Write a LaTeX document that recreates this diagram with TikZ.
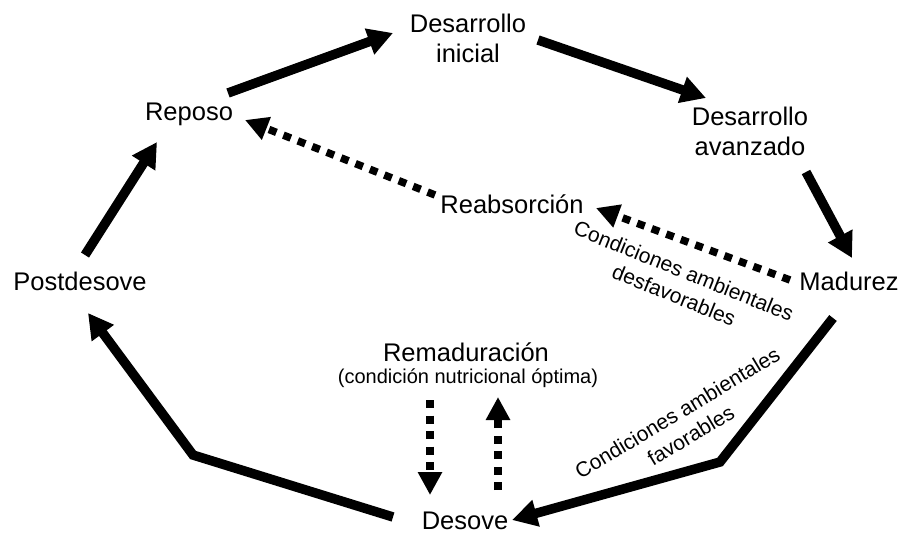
\documentclass[tikz,border=0pt]{standalone}
\usepackage{fontspec}
\setmainfont{Liberation Sans}
\usepackage{tikz}
\usetikzlibrary{positioning}
\usetikzlibrary{arrows.meta, calc}
\tikzstyle{stage} = [align=center, inner sep=0pt, font=\fontsize{25.5}{30}\selectfont]
\tikzstyle{note} = [inner sep=0pt, font=\fontsize{20}{24}\selectfont]
\tikzstyle{cond} = [align=center, inner sep=0pt, font=\fontsize{21}{26}\selectfont]
\tikzstyle{arrow} = [line width=9.5pt, -{Triangle[length=25pt,width=26pt]}]
\tikzstyle{dotarrow} = [line width=7.5pt, dash pattern=on 8pt off 7.5pt, -{Triangle[length=23pt,width=23pt]}]

\begin{document}
\begin{tikzpicture}[x=1pt,y=-1pt]
      \useasboundingbox (0,0) rectangle (901,535);
      %%%%%%%%%%%%%%%%%%%%%%%%%%%%%%%%%%%%%%%
      \draw (468,38) node (ini) [stage] {Desarrollo\\inicial};
      \draw (189,114) node (rep) [stage] {Reposo};
      \draw (750,131) node (ava) [stage] {Desarrollo\\avanzado};
      \draw (512,204) node (rea) [stage] {Reabsorción};
      \draw (849,281) node (mad) [stage] {Madurez};
      \draw (80,281) node (post) [stage] {Postdesove};
      \draw (466,352) node (rem) [stage] {Remaduración};
      \draw (468,383) node (remnote) [note, anchor=base] {(condición nutricional óptima)};
      \draw (465,521) node (des) [stage] {Desove};
      \node (unfav) [cond, rotate=-22] at (679,283) {Condiciones ambientales\\desfavorables};
      \node (fav) [cond, rotate=31] at (684,424) {Condiciones ambientales\\favorables};
      \coordinate (bendR) at (720,462);
      \coordinate (bendL) at (193,455);
      %\draw (rep) -- (ini);
      \draw[arrow] ([shift={(39,-21)}]rep.center) -- ([shift={(-75,-5)}]ini.center);
      \draw[arrow] ([shift={(70,2)}]ini.center) -- ([shift={(-44,-33)}]ava.center);
      \draw[arrow] ([shift={(56,41)}]ava.center) -- ([shift={(3,-23)}]mad.center);
      \draw[arrow] ([shift={(-16,37)}]mad.center) -- (bendR) -- ([shift={(47,-1)}]des.center);
      \draw[arrow] ([shift={(-72,-4)}]des.center) -- (bendL) -- ([shift={(8,32)}]post.center);
      \draw[arrow] ([shift={(5,-26)}]post.center) -- ([shift={(-32,28)}]rep.center);
      \draw[dotarrow] ([shift={(-59,-1)}]mad.center) -- ([shift={(84,4)}]rea.center);
      \draw[dotarrow] ([shift={(-77,-9)}]rea.center) -- ([shift={(56,6)}]rep.center);
      \draw[dotarrow] ([shift={(-36,48)}]rem.center) -- ([shift={(-35,-26)}]des.center);
      \draw[dotarrow] ([shift={(33,-31)}]des.center) -- ([shift={(32,45)}]rem.center);
\end{tikzpicture}
\end{document}
